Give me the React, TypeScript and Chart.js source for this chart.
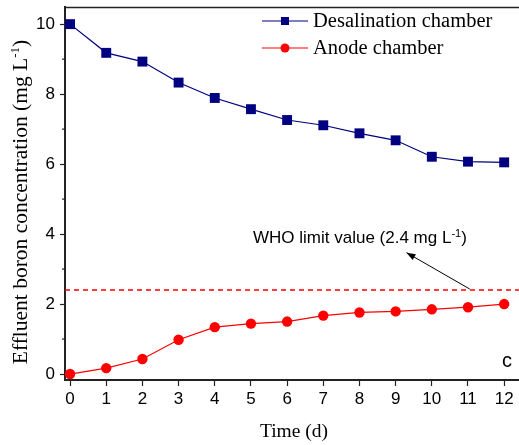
import React, { useEffect, useRef } from "react";
import { Chart, registerables } from "chart.js";

Chart.register(...registerables);

const days = [0, 1, 2, 3, 4, 5, 6, 7, 8, 9, 10, 11, 12];
const desalination = [10.0, 9.18, 8.93, 8.33, 7.89, 7.57, 7.26, 7.11, 6.88, 6.68, 6.21, 6.07, 6.05];
const anode = [0.0, 0.17, 0.43, 0.98, 1.34, 1.44, 1.5, 1.67, 1.76, 1.79, 1.85, 1.91, 2.0];
const whoLimit = 2.4;
const xTicks = [0, 1, 2, 3, 4, 5, 6, 7, 8, 9, 10, 11, 12];
const yTicks = [0, 2, 4, 6, 8, 10];
const yMinorTicks = [1, 3, 5, 7, 9];
const seriesNames = ["Desalination chamber", "Anode chamber"];

const X_MIN = -0.14;
const X_MAX = 12.41;
const Y_MIN = -0.17;
const Y_MAX = 10.49;

const SANS = "'Liberation Sans', Arial, sans-serif";
const SERIF = "'Liberation Serif', 'Times New Roman', serif";

function drawSupText(
  ctx: CanvasRenderingContext2D,
  parts: { t: string; sup?: boolean }[],
  x: number,
  y: number,
  size: number,
  family: string,
  align: "left" | "center",
  supRatio = 0.62
) {
  const supSize = Math.round(size * supRatio);
  let total = 0;
  const widths = parts.map((p) => {
    ctx.font = `${p.sup ? supSize : size}px ${family}`;
    const w = ctx.measureText(p.t).width;
    total += w;
    return w;
  });
  let cx = align === "center" ? x - total / 2 : x;
  ctx.textBaseline = "alphabetic";
  ctx.textAlign = "left";
  parts.forEach((p, i) => {
    ctx.font = `${p.sup ? supSize : size}px ${family}`;
    ctx.fillText(p.t, cx, p.sup ? y - size * 0.38 : y);
    cx += widths[i];
  });
}

const overlay = {
  id: "overlay",
  afterDraw(chart: any) {
    const ctx: CanvasRenderingContext2D = chart.ctx;
    const xs = chart.scales.x;
    const ys = chart.scales.y;
    const area = chart.chartArea;
    ctx.save();
    // top border
    ctx.strokeStyle = "#222";
    ctx.lineWidth = 1.5;
    ctx.beginPath();
    ctx.moveTo(area.left, area.top + 0.5);
    ctx.lineTo(area.right, area.top + 0.5);
    ctx.stroke();
    // minor y ticks
    ctx.lineWidth = 1.2;
    yMinorTicks.forEach((v) => {
      const py = ys.getPixelForValue(v);
      ctx.beginPath();
      ctx.moveTo(area.left - 3, py);
      ctx.lineTo(area.left, py);
      ctx.stroke();
    });

    ctx.fillStyle = "#000";
    // y title
    ctx.save();
    ctx.translate(27, 202);
    ctx.rotate(-Math.PI / 2);
    drawSupText(
      ctx,
      [{ t: "Effluent boron concentration (mg L" }, { t: "-1", sup: true }, { t: ")" }],
      0,
      0,
      21.5,
      SERIF,
      "center"
    );
    ctx.restore();
    // x title
    drawSupText(ctx, [{ t: "Time (d)" }], 294, 437, 19.5, SERIF, "center");

    // WHO annotation
    drawSupText(
      ctx,
      [{ t: "WHO limit value (2.4 mg L" }, { t: "-1", sup: true }, { t: ")" }],
      253,
      243,
      17,
      SANS,
      "left",
      0.66
    );
    // arrow
    const ax0 = xs.getPixelForValue(11.05);
    const ay0 = ys.getPixelForValue(whoLimit) - 1;
    const ax1 = xs.getPixelForValue(9.3);
    const ay1 = ys.getPixelForValue(whoLimit + 1.07);
    ctx.strokeStyle = "#000";
    ctx.lineWidth = 1;
    ctx.beginPath();
    ctx.moveTo(ax0, ay0);
    ctx.lineTo(ax1, ay1);
    ctx.stroke();
    const ang = Math.atan2(ay1 - ay0, ax1 - ax0);
    const hl = 9;
    const hw = 3.2;
    ctx.beginPath();
    ctx.moveTo(ax1, ay1);
    ctx.lineTo(
      ax1 - hl * Math.cos(ang) + hw * Math.sin(ang),
      ay1 - hl * Math.sin(ang) - hw * Math.cos(ang)
    );
    ctx.lineTo(
      ax1 - hl * Math.cos(ang) - hw * Math.sin(ang),
      ay1 - hl * Math.sin(ang) + hw * Math.cos(ang)
    );
    ctx.closePath();
    ctx.fill();

    // panel label
    ctx.font = `20px ${SANS}`;
    ctx.textAlign = "left";
    ctx.textBaseline = "alphabetic";
    ctx.fillText("c", 502, 367);

    // legend
    const legendRows = [
      { name: seriesNames[0], color: "#000080", shape: "rect", y: 21 },
      { name: seriesNames[1], color: "#ff0000", shape: "circle", y: 48 },
    ];
    legendRows.forEach((r) => {
      ctx.strokeStyle = r.color;
      ctx.fillStyle = r.color;
      ctx.lineWidth = 1.2;
      ctx.beginPath();
      ctx.moveTo(262, r.y);
      ctx.lineTo(308, r.y);
      ctx.stroke();
      if (r.shape === "rect") {
        ctx.fillRect(285 - 4, r.y - 4, 8, 8);
      } else {
        ctx.beginPath();
        ctx.arc(285, r.y, 4.5, 0, Math.PI * 2);
        ctx.fill();
      }
      ctx.fillStyle = "#000";
      ctx.font = `20.5px ${SERIF}`;
      ctx.textBaseline = "middle";
      ctx.fillText(r.name, 313, r.y + 1);
    });
    ctx.restore();
  },
};

export default function App() {
  const ref = useRef<HTMLCanvasElement | null>(null);
  useEffect(() => {
    document.body.style.margin = "0";
    document.body.style.overflow = "hidden";
    if (!ref.current) return;
    const chart = new Chart(ref.current, {
      type: "line",
      data: {
        datasets: [
          {
            label: seriesNames[0],
            data: days.map((d, i) => ({ x: d, y: desalination[i] })),
            borderColor: "#000080",
            backgroundColor: "#000080",
            borderWidth: 1.2,
            pointStyle: "rect",
            pointRadius: 7,
            pointBorderWidth: 0,
          },
          {
            label: seriesNames[1],
            data: days.map((d, i) => ({ x: d, y: anode[i] })),
            borderColor: "#ff0000",
            backgroundColor: "#ff0000",
            borderWidth: 1.2,
            pointStyle: "circle",
            pointRadius: 5.2,
            pointBorderWidth: 0,
          },
          {
            label: "WHO",
            data: [
              { x: X_MIN, y: whoLimit },
              { x: X_MAX, y: whoLimit },
            ],
            borderColor: "#ff0000",
            borderWidth: 1.6,
            borderDash: [5, 4],
            pointRadius: 0,
          },
        ],
      },
      options: {
        responsive: false,
        animation: false,
        devicePixelRatio: 1,
        layout: { autoPadding: false, padding: { top: 7, right: 0, left: 0, bottom: 0 } },
        plugins: { legend: { display: false }, tooltip: { enabled: false } },
        scales: {
          x: {
            type: "linear",
            min: X_MIN,
            max: X_MAX,
            afterBuildTicks: (s: any) => {
              s.ticks = xTicks.map((v) => ({ value: v }));
            },
            afterFit: (s: any) => {
              s.height = 65;
              s.paddingLeft = 0;
              s.paddingRight = 0;
            },
            ticks: {
              font: { family: SANS, size: 17 },
              color: "#000",
              padding: 3,
              maxRotation: 0,
              autoSkip: false,
            },
            grid: { drawOnChartArea: false, tickLength: 6, color: "#222", tickWidth: 1.2 },
            border: { display: true, color: "#222", width: 2 },
          },
          y: {
            type: "linear",
            min: Y_MIN,
            max: Y_MAX,
            afterBuildTicks: (s: any) => {
              s.ticks = yTicks.map((v) => ({ value: v }));
            },
            afterFit: (s: any) => {
              s.width = 65;
              s.paddingTop = 0;
              s.paddingBottom = 0;
            },
            ticks: {
              font: { family: SANS, size: 17 },
              color: "#000",
              padding: 5,
            },
            grid: { drawOnChartArea: false, tickLength: 5, color: "#222", tickWidth: 1.2 },
            border: { display: true, color: "#222", width: 2 },
          },
        },
      },
      plugins: [overlay],
    });
    return () => chart.destroy();
  }, []);
  return (
    <canvas
      ref={ref}
      width={519}
      height={445}
      style={{ display: "block", width: 519, height: 445 }}
    />
  );
}
